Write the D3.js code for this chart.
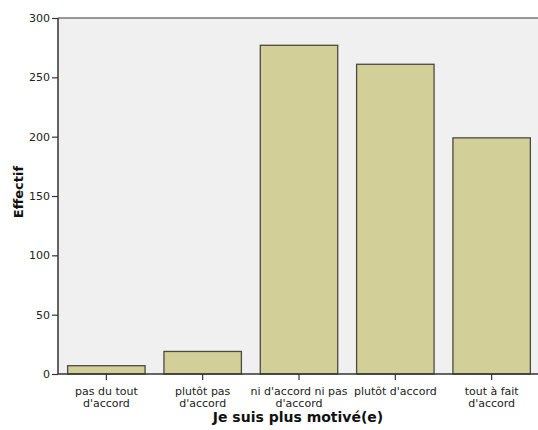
<!DOCTYPE html>
<html><head><meta charset="utf-8">
<script src="https://cdn.jsdelivr.net/npm/d3@7"></script>
<style>
html,body{margin:0;padding:0;background:#fff;}
svg{display:block;font-family:"DejaVu Sans",Verdana,sans-serif;}
</style></head>
<body>
<svg id="chart" width="538" height="430"></svg>
<script>
const categories = ["pas du tout\nd'accord", "plutôt pas\nd'accord", "ni d'accord ni pas\nd'accord", "plutôt d'accord", "tout à fait\nd'accord"];
const values = [7, 19, 277, 261, 199];
const yTicks = [0, 50, 100, 150, 200, 250, 300];
const xTitle = "Je suis plus motivé(e)";
const yTitle = "Effectif";

const FONT = "'DejaVu Sans', Verdana, sans-serif";
const svg = d3.select("#chart");
const mLeft = 58, mRight = 540, mTop = 18, mBottom = 374;

svg.append("rect").attr("x", mLeft).attr("y", mTop).attr("width", 538 - mLeft).attr("height", mBottom - mTop).attr("fill", "#f0f0f0");

const x = d3.scaleBand().domain(categories).range([mLeft, mRight]).paddingInner(0.196).paddingOuter(0.1);
const y = d3.scaleLinear().domain([0, 300]).range([mBottom, mTop]);

// top border
svg.append("line").attr("x1", mLeft).attr("x2", 538).attr("y1", y(300)).attr("y2", y(300)).attr("stroke", "#777").attr("stroke-width", 1.5);

svg.selectAll("rect.bar").data(values).enter().append("rect")
  .attr("class", "bar")
  .attr("x", (d, i) => x(categories[i]))
  .attr("y", d => y(d))
  .attr("width", x.bandwidth())
  .attr("height", d => y(0) - y(d))
  .attr("fill", "#d3cf98")
  .attr("stroke", "#4a4a42")
  .attr("stroke-width", 1.3);

// y axis
const yAxis = d3.axisLeft(y).tickValues(yTicks).tickSize(6).tickPadding(2);
const gy = svg.append("g").attr("transform", `translate(${mLeft},0)`).call(yAxis);
gy.select(".domain").attr("stroke", "#333").attr("stroke-width", 1.5).attr("d", `M0,${mTop}V${mBottom}`);
gy.selectAll(".tick line").attr("stroke", "#333").attr("stroke-width", 1.2);
gy.selectAll(".tick text").attr("font-size", 11).attr("fill", "#222").attr("font-family", FONT);

// x axis
const xAxis = d3.axisBottom(x).tickSize(6).tickFormat("");
const gx = svg.append("g").attr("transform", `translate(0,${mBottom})`).call(xAxis);
gx.select(".domain").attr("stroke", "#333").attr("stroke-width", 1.5).attr("d", `M${mLeft},0H538`);
gx.selectAll(".tick line").attr("stroke", "#333").attr("stroke-width", 1.2);
gx.selectAll(".tick").each(function(d) {
  const lines = d.split("\n");
  const t = d3.select(this).append("text")
    .attr("text-anchor", "middle").attr("font-size", 11).attr("fill", "#222")
    .attr("font-family", FONT);
  lines.forEach((ln, i) => {
    t.append("tspan").attr("x", 0).attr("y", 21 + i * 12).text(ln);
  });
});

svg.append("text").attr("x", (mLeft + 538) / 2).attr("y", 422).attr("text-anchor", "middle")
  .attr("font-family", FONT)
  .attr("font-size", 14).attr("font-weight", "bold").attr("fill", "#111").text(xTitle);

svg.append("text").attr("transform", `translate(23,192) rotate(-90)`)
  .attr("text-anchor", "middle").attr("font-family", FONT)
  .attr("font-size", 13).attr("font-weight", "bold").attr("fill", "#111").text(yTitle);
</script>
</body></html>
